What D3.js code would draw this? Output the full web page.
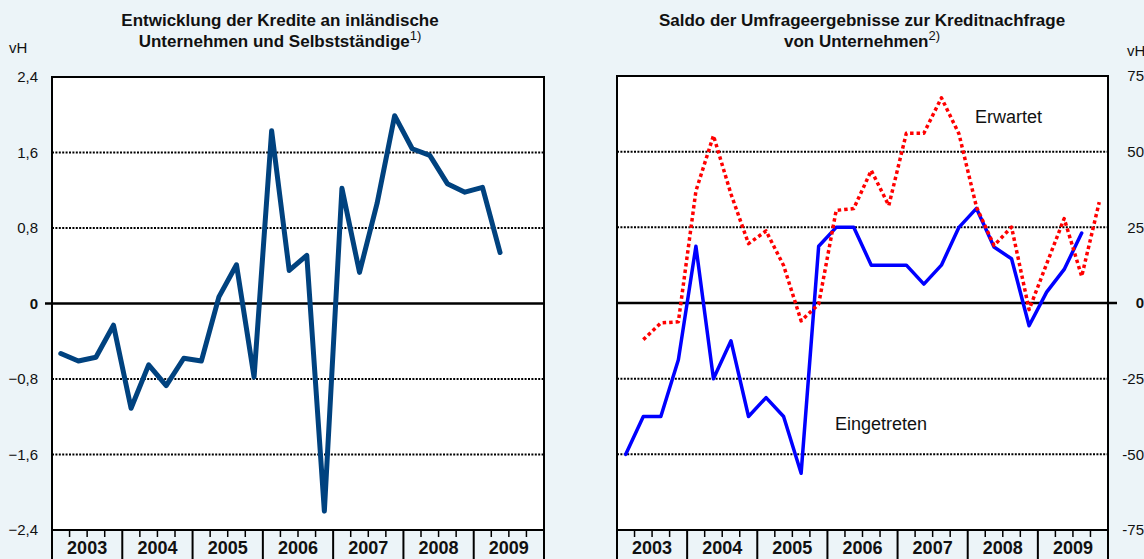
<!DOCTYPE html>
<html>
<head>
<meta charset="utf-8">
<script src="https://cdn.jsdelivr.net/npm/d3@7"></script>
<style>
  body { margin: 0; background: #ecf4f8; }
  svg { display: block; font-family: "Liberation Sans", Arial, sans-serif; }
</style>
</head>
<body>
<div id="chart"></div>
<script>
// quarters 2003Q1 .. 2009Q4
const years = ["2003", "2004", "2005", "2006", "2007", "2008", "2009"];
const quarters = years.flatMap(y => ["Q1", "Q2", "Q3", "Q4"].map(q => y + q));

// left panel: Entwicklung der Kredite (vH), 2003Q1 .. 2009Q2
const kredite = [-0.53, -0.61, -0.57, -0.23, -1.11, -0.65, -0.87, -0.58, -0.61, 0.07,
  0.41, -0.78, 1.83, 0.35, 0.51, -2.2, 1.22, 0.33, 1.06, 1.99,
  1.64, 1.57, 1.27, 1.18, 1.23, 0.54];
const leftTicks = [-2.4, -1.6, -0.8, 0, 0.8, 1.6, 2.4];

// right panel: Saldo Kreditnachfrage (vH)
const eingetreten = [-50, -37.5, -37.5, -18.75, 18.75, -25, -12.5, -37.5, -31.25, -37.5,
  -56.25, 18.75, 25, 25, 12.5, 12.5, 12.5, 6.25, 12.5, 25,
  31.25, 18.5, 14.6, -7.5, 3.6, 11.1, 23.1];
const erwartet = [null, -12.1, -6.6, -6.2, 37, 55.3, 36, 19.6, 23.8, 12.4,
  -5.9, -0.4, 30.6, 31.2, 43.8, 32.2, 56.1, 56.1, 67.8, 55.9,
  31.7, 19, 25.1, -2.2, 12.9, 27.9, 8.8, 33.3];
const rightTicks = [-75, -50, -25, 0, 25, 50, 75];

const W = 1144, H = 559;
const svg = d3.select("#chart").append("svg").attr("width", W).attr("height", H);

const fmt = v => d3.format(".1f")(v).replace(".", ",");

function panel(opt) {
  const g = svg.append("g");
  const x = d3.scaleBand().domain(quarters).range([opt.x0, opt.x1]).padding(0);
  const y = d3.scaleLinear().domain(opt.domain).range([opt.y1, opt.y0]);
  const xc = i => x(quarters[i]) + x.bandwidth() / 2;

  g.append("rect")
    .attr("x", opt.x0).attr("y", opt.y0)
    .attr("width", opt.x1 - opt.x0).attr("height", opt.y1 - opt.y0)
    .attr("fill", "#fff");

  // dotted grid
  g.selectAll(".grid")
    .data(opt.ticks.filter(t => t !== 0 && t !== opt.domain[0] && t !== opt.domain[1]))
    .join("line")
    .attr("x1", opt.x0).attr("x2", opt.x1)
    .attr("y1", d => y(d)).attr("y2", d => y(d))
    .attr("stroke", "#000").attr("stroke-width", 2)
    .attr("stroke-dasharray", "2,1.4");

  // zero line
  g.append("line")
    .attr("x1", opt.zx0).attr("x2", opt.zx1)
    .attr("y1", y(0)).attr("y2", y(0))
    .attr("stroke", "#000").attr("stroke-width", 2.5);

  // y labels
  g.selectAll(".yl")
    .data(opt.ticks)
    .join("text")
    .attr("x", opt.labelX)
    .attr("y", d => y(d))
    .attr("dy", "0.35em")
    .attr("text-anchor", "end")
    .attr("font-size", 15)
    .attr("font-weight", d => d === 0 ? "bold" : "normal")
    .attr("fill", "#111")
    .text(d => d === 0 ? "0" : opt.fmt(d));

  // x axis: quarter ticks and year separators
  g.selectAll(".qt")
    .data(d3.range(1, quarters.length).filter(i => i % 4 !== 0))
    .join("line")
    .attr("x1", i => x(quarters[i])).attr("x2", i => x(quarters[i]))
    .attr("y1", opt.y1).attr("y2", opt.y1 + 7)
    .attr("stroke", "#000").attr("stroke-width", 1.5);
  g.selectAll(".ys")
    .data(d3.range(0, quarters.length + 1, 4))
    .join("line")
    .attr("x1", i => i < quarters.length ? x(quarters[i]) : opt.x1)
    .attr("x2", i => i < quarters.length ? x(quarters[i]) : opt.x1)
    .attr("y1", opt.y1).attr("y2", H)
    .attr("stroke", "#000").attr("stroke-width", 2);
  g.selectAll(".yr")
    .data(years)
    .join("text")
    .attr("x", (d, i) => (x(d + "Q1") + x(d + "Q4") + x.bandwidth()) / 2)
    .attr("y", 554)
    .attr("text-anchor", "middle")
    .attr("font-size", 18).attr("font-weight", "bold")
    .attr("fill", "#111")
    .text(d => d);

  // series
  opt.series.forEach(s => {
    g.append("path")
      .datum(s.values)
      .attr("fill", "none")
      .attr("stroke", s.color)
      .attr("stroke-width", s.width)
      .attr("stroke-linejoin", "round")
      .attr("stroke-linecap", s.dash ? "butt" : "round")
      .attr("stroke-dasharray", s.dash || null)
      .attr("d", d3.line()
        .defined(d => d !== null)
        .x((d, i) => xc(i))
        .y(d => y(d)));
  });

  // border
  g.append("rect")
    .attr("x", opt.x0).attr("y", opt.y0)
    .attr("width", opt.x1 - opt.x0).attr("height", opt.y1 - opt.y0)
    .attr("fill", "none").attr("stroke", "#000").attr("stroke-width", 2);

  // title
  const t = g.append("text")
    .attr("text-anchor", "middle")
    .attr("font-size", 17).attr("font-weight", "bold").attr("fill", "#111");
  t.append("tspan").attr("x", opt.titleX).attr("y", 26).text(opt.title[0]);
  const l2 = t.append("tspan").attr("x", opt.titleX).attr("y", 47);
  l2.append("tspan").text(opt.title[1]);
  l2.append("tspan").attr("font-size", 13).attr("font-weight", "normal")
    .attr("dy", -7).text(opt.note);

  g.append("text")
    .attr("x", opt.vhX).attr("y", opt.vhY)
    .attr("font-size", 15).attr("fill", "#111")
    .text("vH");

  return { x, y, xc, g };
}

panel({
  x0: 52, x1: 544, y0: 77, y1: 530,
  zx0: 45, zx1: 544,
  domain: [-2.4, 2.4], ticks: leftTicks, fmt: fmt,
  labelX: 38, vhX: 9, vhY: 53, titleX: 280,
  title: ["Entwicklung der Kredite an inländische", "Unternehmen und Selbstständige"],
  note: "1)",
  series: [{ values: kredite, color: "#00427f", width: 5 }]
});

const right = panel({
  x0: 617, x1: 1108, y0: 76, y1: 530,
  zx0: 617, zx1: 1117,
  domain: [-75, 75], ticks: rightTicks, fmt: d => String(d),
  labelX: 1144, vhX: 1127, vhY: 56, titleX: 862,
  title: ["Saldo der Umfrageergebnisse zur Kreditnachfrage", "von Unternehmen"],
  note: "2)",
  series: [
    { values: eingetreten, color: "#0000ff", width: 3.5 },
    { values: erwartet, color: "#ff0000", width: 3.5, dash: "3.5,3" }
  ]
});

right.g.append("text")
  .attr("x", 975).attr("y", 123)
  .attr("font-size", 18).attr("fill", "#111")
  .text("Erwartet");
right.g.append("text")
  .attr("x", 835).attr("y", 430)
  .attr("font-size", 18).attr("fill", "#111")
  .text("Eingetreten");
</script>
</body>
</html>
